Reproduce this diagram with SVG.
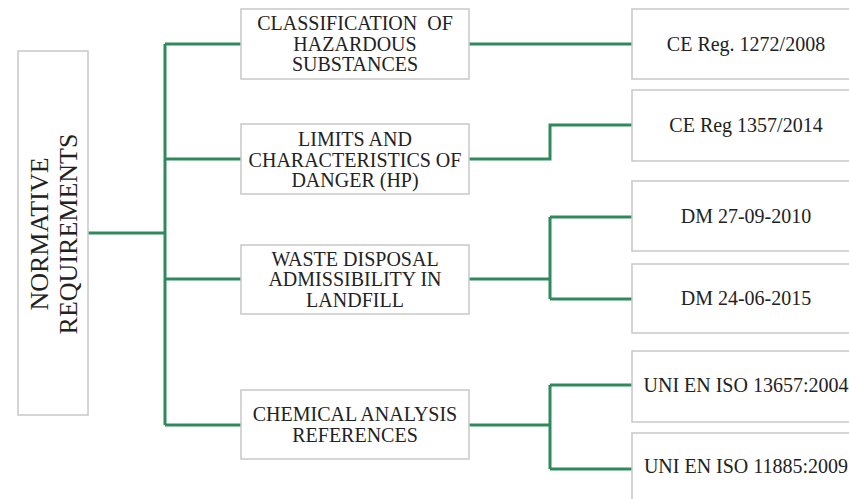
<svg xmlns="http://www.w3.org/2000/svg" width="849" height="499" viewBox="0 0 849 499">
<style>
.box{fill:#fff;stroke:#c8c8c8;stroke-width:1.5}
.t{font-family:"Liberation Serif","Times New Roman",serif;font-size:20px;fill:#222;text-anchor:middle}
.big{font-size:26px}
.c{fill:none;stroke:#2e8a5c;stroke-width:3;stroke-linejoin:miter}
</style>
<rect width="849" height="499" fill="#fff"/>
<g id="connectors">
<path class="c" d="M88,233 H165 M165,44 V425 M165,44 H241 M165,159 H241 M165,279 H241 M165,425 H241"/>
<path class="c" d="M469,44 H632"/>
<path class="c" d="M469,159 H550 V125 H632"/>
<path class="c" d="M469,279 H550 M550,217 V299 M550,217 H632 M550,299 H632"/>
<path class="c" d="M469,425 H550 M550,385 V469 M550,385 H632 M550,469 H632"/>
</g>
<g id="root">
<rect class="box" x="18" y="51" width="70" height="364"/>
<g transform="translate(53,234) rotate(-90)">
<text class="t big" x="0" y="-5">NORMATIVE</text>
<text class="t big" x="0" y="24">REQUIREMENTS</text>
</g>
</g>
<g id="classification">
<rect class="box" x="241" y="9" width="228" height="70"/>
<text class="t" x="355" y="30" xml:space="preserve">CLASSIFICATION  OF</text>
<text class="t" x="355" y="50.5">HAZARDOUS</text>
<text class="t" x="355" y="71">SUBSTANCES</text>
</g>
<g id="limits">
<rect class="box" x="241" y="124" width="228" height="70"/>
<text class="t" x="355" y="146">LIMITS AND</text>
<text class="t" x="355" y="166.5">CHARACTERISTICS OF</text>
<text class="t" x="355" y="187">DANGER (HP)</text>
</g>
<g id="waste">
<rect class="box" x="241" y="245" width="228" height="69"/>
<text class="t" x="355" y="265.5">WASTE DISPOSAL</text>
<text class="t" x="355" y="286">ADMISSIBILITY IN</text>
<text class="t" x="355" y="306.5">LANDFILL</text>
</g>
<g id="chemical">
<rect class="box" x="241" y="390" width="228" height="69"/>
<text class="t" x="355" y="421">CHEMICAL ANALYSIS</text>
<text class="t" x="355" y="441.5">REFERENCES</text>
</g>
<g id="ce1272">
<rect class="box" x="632" y="9" width="228" height="70"/>
<text class="t" x="746" y="51">CE Reg. 1272/2008</text>
</g>
<g id="ce1357">
<rect class="box" x="632" y="90" width="228" height="71"/>
<text class="t" x="746" y="132">CE Reg 1357/2014</text>
</g>
<g id="dm2010">
<rect class="box" x="632" y="181" width="228" height="70"/>
<text class="t" x="746" y="223">DM 27-09-2010</text>
</g>
<g id="dm2015">
<rect class="box" x="632" y="264" width="228" height="69"/>
<text class="t" x="746" y="305">DM 24-06-2015</text>
</g>
<g id="iso13657">
<rect class="box" x="632" y="351" width="228" height="71"/>
<text class="t" x="746" y="392">UNI EN ISO 13657:2004</text>
</g>
<g id="iso11885">
<rect class="box" x="632" y="433" width="228" height="80"/>
<text class="t" x="746" y="473">UNI EN ISO 11885:2009</text>
</g>
</svg>
